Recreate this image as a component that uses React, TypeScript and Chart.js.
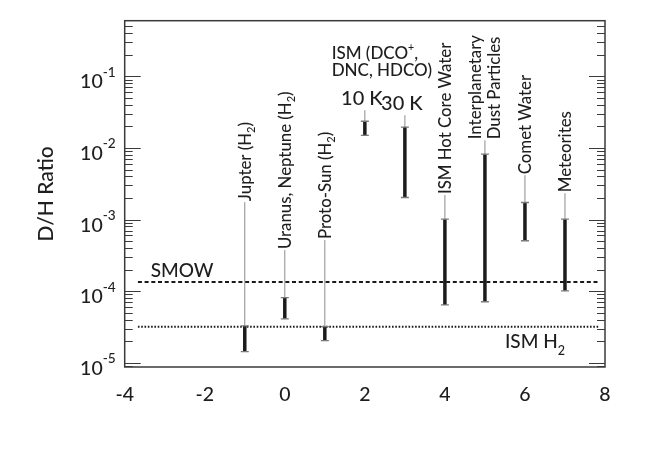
import { useEffect, useRef } from "react";
import { Chart, registerables } from "chart.js";

Chart.register(...registerables);

// ---- data ----
const categoryX = [-1, 0, 1, 2, 3, 4, 5, 6, 7];
const categoryLabels = [
  "Jupter (H_{2})",
  "Uranus, Neptune (H_{2})",
  "Proto-Sun (H_{2})",
  "10 K",
  "30 K",
  "ISM Hot Core Water",
  "Interplanetary\nDust Particles",
  "Comet Water",
  "Meteorites",
];
const labelVertical = [true, true, true, false, false, true, true, true, true];
const rangeLow = [1.43e-5, 4.1e-5, 2.03e-5, 0.015, 2.03e-3, 6.4e-5, 7.1e-5, 5.05e-4, 1.01e-4];
const rangeHigh = [3.26e-5, 8.1e-5, 3.18e-5, 0.0236, 0.0196, 1.01e-3, 8.2e-3, 1.73e-3, 1.01e-3];
const leaderTop = [1.75e-3, 3.74e-4, 5.16e-4, 0.0336, 0.0286, 2.2e-3, 0.0128, 4.16e-3, 2.33e-3];
const smowRatio = 1.34e-4;
const ismH2Ratio = 3.18e-5;
const referenceLineX = [-3.67, 7.83];
const groupTitle = ["ISM (DCO^{+},", "DNC, HDCO)"];
const xTickValues = [-4, -2, 0, 2, 4, 6, 8];
const yTickExponents = [-5, -4, -3, -2, -1];
const yMin = 8.7e-6;
const yMax = 0.6;
const yAxisTitle = "D/H Ratio";
const smowLabel = "SMOW";
const ismH2Label = "ISM H_{2}";

const FONT = "Lato, 'Open Sans', sans-serif";
const WEIGHT = 500;
const TEXT = "#1e1e1e";

type Seg = { t: string; k: "n" | "sub" | "sup" };
function parseRich(text: string): Seg[] {
  const out: Seg[] = [];
  const re = /([_^])\{([^}]*)\}/g;
  let last = 0;
  let m: RegExpExecArray | null;
  while ((m = re.exec(text))) {
    if (m.index > last) out.push({ t: text.slice(last, m.index), k: "n" });
    out.push({ t: m[2], k: m[1] === "_" ? "sub" : "sup" });
    last = re.lastIndex;
  }
  if (last < text.length) out.push({ t: text.slice(last), k: "n" });
  return out;
}

function drawRich(
  ctx: CanvasRenderingContext2D,
  text: string,
  x: number,
  y: number,
  size: number,
  align: "left" | "right" | "center",
  opts: { scale?: number; sub?: number; sup?: number } = {}
) {
  const scale = opts.scale ?? 0.65;
  const subShift = opts.sub ?? size * 0.28;
  const supShift = opts.sup ?? size * 0.45;
  const segs = parseRich(text);
  const widths = segs.map((s) => {
    ctx.font = `${WEIGHT} ${s.k === "n" ? size : size * scale}px ${FONT}`;
    return ctx.measureText(s.t).width;
  });
  const w = widths.reduce((a, b) => a + b, 0);
  let cx = align === "left" ? x : align === "right" ? x - w : x - w / 2;
  ctx.textAlign = "left";
  ctx.textBaseline = "alphabetic";
  segs.forEach((s, i) => {
    ctx.font = `${WEIGHT} ${s.k === "n" ? size : size * scale}px ${FONT}`;
    const dy = s.k === "sub" ? subShift : s.k === "sup" ? -supShift : 0;
    ctx.fillText(s.t, cx, y + dy);
    cx += widths[i];
  });
}

const annotate = {
  id: "annotate",
  afterDraw(chart: any) {
    const ctx: CanvasRenderingContext2D = chart.ctx;
    const xs = chart.scales.x;
    const ys = chart.scales.y;
    const { left, right, top, bottom } = chart.chartArea;
    ctx.save();

    // frame
    ctx.strokeStyle = "#3a3a3a";
    ctx.lineWidth = 1.5;
    ctx.strokeRect(left, top, right - left, bottom - top);

    // inside log ticks on left and right
    ctx.lineWidth = 1.2;
    for (let d = -7; d <= 1; d++) {
      for (let m = 1; m <= 9; m++) {
        const v = m * Math.pow(10, d);
        if (v < yMin || v > yMax) continue;
        const py = Math.round(ys.getPixelForValue(v)) + 0.5;
        const len = m === 1 ? 16 : 8;
        ctx.beginPath();
        ctx.moveTo(left, py);
        ctx.lineTo(left + len, py);
        ctx.moveTo(right, py);
        ctx.lineTo(right - len, py);
        ctx.stroke();
      }
    }

    // y tick labels
    ctx.fillStyle = TEXT;
    yTickExponents.forEach((e) => {
      const py = ys.getPixelForValue(Math.pow(10, e));
      drawRich(ctx, `10^{${e}}`, left - 9, py + 12, 19.5, "right", { scale: 0.7, sup: 11.5 });
    });

    // axis title
    ctx.save();
    ctx.translate(38.7, (top + bottom) / 2);
    ctx.rotate(-Math.PI / 2);
    ctx.font = `${WEIGHT} 21px ${FONT}`;
    ctx.textAlign = "center";
    ctx.textBaseline = "middle";
    ctx.fillText(yAxisTitle, 0, 0);
    ctx.restore();

    // category labels
    categoryLabels.forEach((label, i) => {
      const px = xs.getPixelForValue(categoryX[i]);
      const py = ys.getPixelForValue(leaderTop[i]);
      if (labelVertical[i]) {
        const lines = label.split("\n");
        ctx.save();
        ctx.translate(px, py - 1);
        ctx.rotate(-Math.PI / 2);
        lines.forEach((ln, j) => {
          const off = (j - (lines.length - 1) / 2) * 19;
          drawRich(ctx, ln, 0, off + 6, 16.8, "left", { scale: 0.66, sub: 4.5 });
        });
        ctx.restore();
      } else {
        drawRich(ctx, label, px - 3, py - 5, 20, "center");
      }
    });

    // group title above the ISM columns
    const gx = xs.getPixelForValue(1.17);
    const gy = ys.getPixelForValue(0.173);
    drawRich(ctx, groupTitle[0], gx, gy, 17, "left", { scale: 0.62, sup: 8.5 });
    drawRich(ctx, groupTitle[1], gx, gy + 16.5, 17, "left");

    // reference line labels
    drawRich(ctx, smowLabel, xs.getPixelForValue(-3.35), ys.getPixelForValue(smowRatio) - 5.5, 19, "left");
    drawRich(ctx, ismH2Label, xs.getPixelForValue(7.0), ys.getPixelForValue(ismH2Ratio) + 21.5, 19, "right", {
      scale: 0.66,
      sub: 6.5,
    });

    ctx.restore();
  },
};

export default function App() {
  const ref = useRef<HTMLCanvasElement | null>(null);
  useEffect(() => {
    if (!ref.current) return;
    const datasets: any[] = [];
    categoryX.forEach((x, i) => {
      datasets.push({
        data: [
          { x, y: rangeLow[i] },
          { x, y: rangeHigh[i] },
        ],
        showLine: true,
        borderColor: "#1c1c1c",
        borderWidth: 3.5,
        pointStyle: "line",
        pointRadius: 4,
        pointBorderColor: "#7a7a7a",
        pointBorderWidth: 1.3,
        order: 1,
      });
      datasets.push({
        data: [
          { x, y: rangeHigh[i] },
          { x, y: leaderTop[i] },
        ],
        showLine: true,
        borderColor: "#8c8c8c",
        borderWidth: 1,
        pointRadius: 0,
        order: 2,
      });
    });
    datasets.push({
      data: referenceLineX.map((x) => ({ x, y: smowRatio })),
      showLine: true,
      borderColor: "#1a1a1a",
      borderWidth: 2,
      borderDash: [4, 2.7],
      pointRadius: 0,
      order: 3,
    });
    datasets.push({
      data: referenceLineX.map((x) => ({ x, y: ismH2Ratio })),
      showLine: true,
      borderColor: "#1a1a1a",
      borderWidth: 2,
      borderDash: [1.6, 1.7],
      pointRadius: 0,
      order: 3,
    });

    const chart = new Chart(ref.current, {
      type: "scatter",
      data: { datasets },
      options: {
        animation: false,
        responsive: false,
        devicePixelRatio: 1,
        layout: { padding: { top: 12.7, right: 41, left: 0, bottom: 0 } },
        plugins: { legend: { display: false }, tooltip: { enabled: false } },
        scales: {
          x: {
            type: "linear",
            min: -4,
            max: 8,
            afterBuildTicks: (s: any) => {
              s.ticks = xTickValues.map((v) => ({ value: v }));
            },
            ticks: {
              font: { family: FONT, size: 19.5, weight: WEIGHT },
              color: TEXT,
              padding: 16.5,
              callback: (v: any) => String(v),
            },
            grid: { display: false, drawTicks: false },
            border: { display: false },
            afterFit: (s: any) => {
              s.height = 76;
            },
          },
          y: {
            type: "logarithmic",
            min: yMin,
            max: yMax,
            ticks: { display: false },
            grid: { display: false, drawTicks: false },
            border: { display: false },
            afterFit: (s: any) => {
              s.width = 116.7;
            },
          },
        },
      } as any,
      plugins: [annotate],
    });
    return () => chart.destroy();
  }, []);
  return (
    <div style={{ width: 638, height: 435 }}>
      <canvas ref={ref} width={638} height={435} />
    </div>
  );
}
